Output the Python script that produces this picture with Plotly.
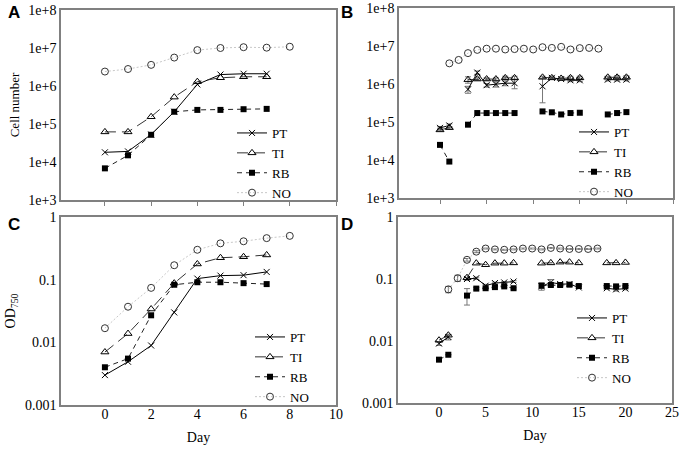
import plotly.graph_objects as go
from plotly.subplots import make_subplots

# Panel A / C: short culture (days 0-8)
days_ac = [0, 1, 2, 3, 4, 5, 6, 7]
days_ac_no = [0, 1, 2, 3, 4, 5, 6, 7, 8]

a_pt = [1.8e4, 1.9e4, 5.3e4, 2.1e5, 1.1e6, 2.0e6, 2.1e6, 2.1e6]
a_ti = [6.2e4, 6.2e4, 1.55e5, 5.1e5, 1.3e6, 1.65e6, 1.75e6, 1.75e6]
a_rb = [6.8e3, 1.5e4, 5.2e4, 2.1e5, 2.35e5, 2.35e5, 2.45e5, 2.5e5]
a_no = [2.4e6, 2.8e6, 3.6e6, 5.6e6, 8.8e6, 1.0e7, 1.05e7, 1.02e7, 1.08e7]

c_pt = [0.0030, 0.0049, 0.0089, 0.030, 0.104, 0.116, 0.118, 0.133]
c_ti = [0.0070, 0.0138, 0.034, 0.088, 0.178, 0.224, 0.232, 0.248]
c_rb = [0.0040, 0.0055, 0.027, 0.083, 0.091, 0.091, 0.088, 0.085]
c_no = [0.0168, 0.037, 0.074, 0.17, 0.30, 0.38, 0.41, 0.46, 0.50]

# Panel B / D: long culture (days 0-20), None = no sample
days_bd = list(range(21))

b_pt = [7.0e4, 8.1e4, None, 7.2e5, 2.0e6, 9.3e5, 9.8e5, 1.05e6, 1.05e6, None, None,
        8.7e5, 1.45e6, 1.35e6, 1.25e6, 1.25e6, None, None, 1.3e6, 1.3e6, 1.3e6]
b_ti = [6.2e4, 7.1e4, None, 1.3e6, 1.35e6, 1.35e6, 1.35e6, 1.45e6, 1.45e6, None, None,
        1.5e6, 1.45e6, 1.4e6, 1.45e6, 1.45e6, None, None, 1.5e6, 1.5e6, 1.5e6]
b_rb = [2.5e4, 9.1e3, None, 8.5e4, 1.72e5, 1.72e5, 1.72e5, 1.72e5, 1.72e5, None, None,
        1.9e5, 1.8e5, 1.58e5, 1.72e5, 1.75e5, None, None, 1.58e5, 1.72e5, 1.82e5]
b_no = [None, 3.5e6, 4.3e6, 6.5e6, 7.9e6, 8.5e6, 8.5e6, 8.1e6, 8.3e6, 8.5e6, 8.1e6,
        9.3e6, 8.9e6, 9.5e6, 8.1e6, 8.8e6, 8.9e6, 8.5e6, None, None, None]

b_pt_err = [5e3, 8e3, 0, 1.5e5, 2e5, 1e5, 1.5e5, 1.5e5, 3e5, 0, 0,
            5.5e5, 1e5, 1e5, 1e5, 1e5, 0, 0, 1e5, 1e5, 1e5]
b_ti_err = [3e3, 5e3, 0, 2.5e5, 1e5, 1e5, 1e5, 1.5e5, 1.5e5, 0, 0,
            1e5, 1e5, 1e5, 1.5e5, 1.5e5, 0, 0, 1e5, 1.5e5, 1.5e5]

d_pt = [0.0091, 0.0116, None, 0.100, 0.103, 0.078, 0.086, 0.088, 0.091, None, None,
        0.076, 0.088, 0.083, 0.083, 0.073, None, None, 0.071, 0.068, 0.070]
d_ti = [0.0103, 0.0124, None, 0.105, 0.180, 0.170, 0.180, 0.180, 0.182, None, None,
        0.180, 0.182, 0.187, 0.187, 0.182, None, None, 0.182, 0.182, 0.185]
d_rb = [0.0050, 0.0060, None, 0.054, 0.070, 0.071, 0.074, 0.076, 0.071, None, None,
        0.078, 0.080, 0.080, 0.081, 0.077, None, None, 0.077, 0.076, 0.077]
d_no = [None, 0.068, 0.103, 0.204, 0.276, 0.31, 0.30, 0.296, 0.30, 0.31, 0.31,
        0.30, 0.317, 0.31, 0.305, 0.305, 0.305, 0.31, None, None, None]

d_rb_err = [0, 0, 0, 0.016, 0.003, 0.002, 0.002, 0.003, 0.002, 0, 0,
            0.008, 0.004, 0.003, 0.003, 0.002, 0, 0, 0.002, 0.003, 0.002]
d_no_err = [0, 0.008, 0.012, 0.01, 0.01, 0.005, 0.005, 0.005, 0.005, 0.005, 0.005,
            0.005, 0.005, 0.005, 0.005, 0.005, 0.005, 0.005, 0, 0, 0]
d_pt_err = [0.0006, 0.0012, 0, 0.005, 0.004, 0.004, 0.003, 0.003, 0.003, 0, 0,
            0.01, 0.01, 0.004, 0.004, 0.003, 0, 0, 0.003, 0.004, 0.003]

cell_ticks = [1e3, 1e4, 1e5, 1e6, 1e7, 1e8]
cell_ticktext = ["1e+3", "1e+4", "1e+5", "1e+6", "1e+7", "1e+8"]
od_ticks = [0.001, 0.01, 0.1, 1]
od_ticktext = ["0.001", "0.01", "0.1", "1"]

styles = {
    "PT": dict(line=dict(color="black", width=1),
               marker=dict(symbol="x-thin", size=6, color="black",
                           line=dict(color="black", width=1))),
    "TI": dict(line=dict(color="#333333", width=1, dash="11px,6px"),
               marker=dict(symbol="triangle-up-open", size=7, color="black",
                           line=dict(color="black", width=1))),
    "RB": dict(line=dict(color="#222222", width=1, dash="5px,4px"),
               marker=dict(symbol="square", size=6, color="black")),
    "NO": dict(line=dict(color="#c8c8c8", width=1, dash="2px,2px"),
               marker=dict(symbol="circle-open", size=7, color="#333333",
                           line=dict(color="#333333", width=1))),
}

fig = make_subplots(rows=2, cols=2)


def add_series(x, y, name, row, col, legend, err=None):
    st = styles[name]
    fig.add_trace(
        go.Scatter(
            x=x,
            y=y,
            mode="lines+markers",
            name=name,
            line=st["line"],
            marker=st["marker"],
            connectgaps=False,
            legend=legend,
            error_y=dict(type="data", array=err, color="#777777", thickness=1, width=3,
                         visible=err is not None),
        ),
        row=row,
        col=col,
    )


# A
add_series(days_ac, a_pt, "PT", 1, 1, "legend")
add_series(days_ac, a_ti, "TI", 1, 1, "legend")
add_series(days_ac, a_rb, "RB", 1, 1, "legend")
add_series(days_ac_no, a_no, "NO", 1, 1, "legend")
# B
add_series(days_bd, b_pt, "PT", 1, 2, "legend2", b_pt_err)
add_series(days_bd, b_ti, "TI", 1, 2, "legend2", b_ti_err)
add_series(days_bd, b_rb, "RB", 1, 2, "legend2")
add_series(days_bd, b_no, "NO", 1, 2, "legend2")
# C
add_series(days_ac, c_pt, "PT", 2, 1, "legend3")
add_series(days_ac, c_ti, "TI", 2, 1, "legend3")
add_series(days_ac, c_rb, "RB", 2, 1, "legend3")
add_series(days_ac_no, c_no, "NO", 2, 1, "legend3")
# D
add_series(days_bd, d_pt, "PT", 2, 2, "legend4", d_pt_err)
add_series(days_bd, d_ti, "TI", 2, 2, "legend4")
add_series(days_bd, d_rb, "RB", 2, 2, "legend4", d_rb_err)
add_series(days_bd, d_no, "NO", 2, 2, "legend4", d_no_err)

W, H = 680, 455


def px(x):
    return x / W


def py(y):
    return 1 - y / H


frame = dict(showline=True, mirror=True, linecolor="#808080", linewidth=1.5,
             showgrid=False, zeroline=False, automargin=False)
tickfont = dict(family="Liberation Serif", size=14, color="black")

# x axes
fig.update_xaxes(**frame, tickfont=tickfont)
fig.update_xaxes(range=[-1.9, 10], dtick=2, tick0=0, showticklabels=False,
                 ticks="outside", ticklen=4, tickcolor="#808080", tickwidth=1,
                 domain=[px(61), px(336)], row=1, col=1)
fig.update_xaxes(range=[-4.4, 25], dtick=5, tick0=0, showticklabels=False,
                 ticks="outside", ticklen=4, tickcolor="#808080", tickwidth=1,
                 domain=[px(399), px(673)], row=1, col=2)
fig.update_xaxes(range=[-1.9, 10], dtick=2, tick0=0, ticks="", ticklabelstandoff=-5,
                 domain=[px(61), px(336)],
                 title=dict(text="Day", standoff=12, font=dict(size=14)), row=2, col=1)
fig.update_xaxes(range=[-4.4, 25], dtick=5, tick0=0, ticks="", ticklabelstandoff=-5,
                 domain=[px(398), px(672)],
                 title=dict(text="Day", standoff=12, font=dict(size=14)), row=2, col=2)

# y axes
fig.update_yaxes(**frame, type="log", ticks="", tickfont=tickfont,
                 ticklabeloverflow="allow")
fig.update_yaxes(range=[3, 8], tickvals=cell_ticks, ticktext=cell_ticktext,
                 domain=[py(200), py(10)],
                 title=dict(text="Cell number", standoff=6, font=dict(size=13)),
                 row=1, col=1)
fig.update_yaxes(range=[3, 8], tickvals=cell_ticks, ticktext=cell_ticktext,
                 domain=[py(198), py(8)], row=1, col=2)
fig.update_yaxes(range=[-3, 0], tickvals=od_ticks, ticktext=od_ticktext,
                 domain=[py(405), py(217)],
                 title=dict(text="OD<sub>750</sub>", standoff=6, font=dict(size=14)),
                 row=2, col=1)
fig.update_yaxes(range=[-3, 0], tickvals=od_ticks, ticktext=od_ticktext,
                 domain=[py(403), py(217)], row=2, col=2)

leg = dict(xanchor="left", yanchor="top", bgcolor="rgba(0,0,0,0)", tracegroupgap=0,
           font=dict(family="Liberation Serif", size=13, color="black"))

for letter, x, y in [("A", 14, 12), ("B", 347, 12), ("C", 14, 224), ("D", 347, 224)]:
    fig.add_annotation(text="<b>%s</b>" % letter, x=px(x), y=py(y), xref="paper",
                       yref="paper", xanchor="center", yanchor="middle", showarrow=False,
                       font=dict(family="Liberation Sans", size=17, color="black"))

fig.update_layout(
    width=W,
    height=H,
    template="none",
    margin=dict(l=0, r=0, t=0, b=0),
    paper_bgcolor="white",
    plot_bgcolor="white",
    font=dict(family="Liberation Serif", size=14, color="black"),
    legend=dict(**leg, x=px(232), y=py(118)),
    legend2=dict(**leg, x=px(574), y=py(117)),
    legend3=dict(**leg, x=px(250), y=py(322)),
    legend4=dict(**leg, x=px(572), y=py(303)),
)

# drop the default 8px page margin so the figure fills the window exactly
fig.write_html("out.html", config={"displayModeBar": False},
               post_script="document.body.style.margin = '0px';")
